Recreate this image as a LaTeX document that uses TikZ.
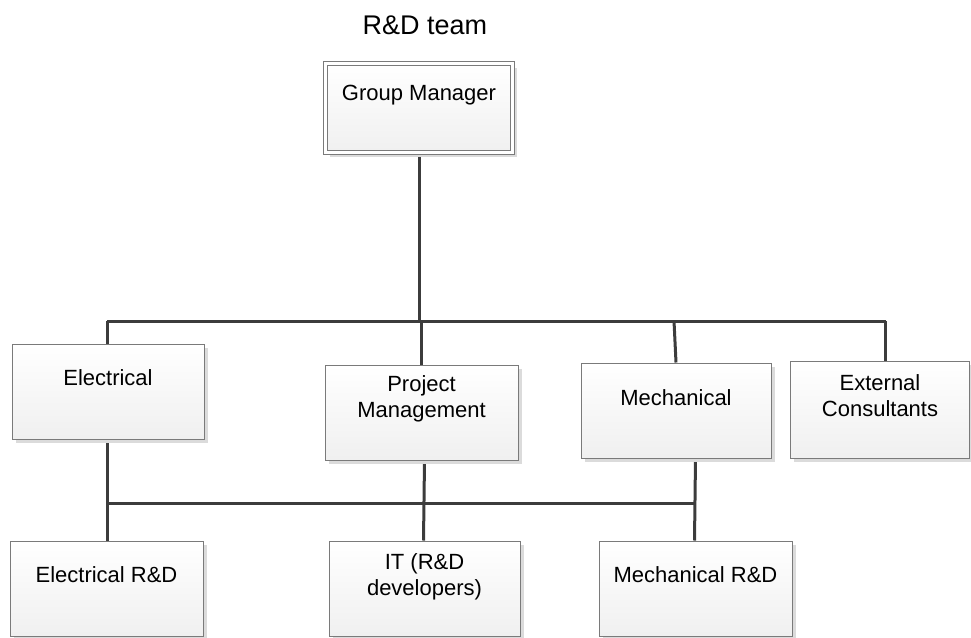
\documentclass[tikz,border=0pt]{standalone}
\usepackage{fontspec}
\setmainfont{Liberation Sans}
\usetikzlibrary{shadows,backgrounds}

\definecolor{wirecol}{HTML}{3C3C3C}
\definecolor{edgecol}{HTML}{7A7A7A}

\tikzset{
  box/.style={draw=edgecol, line width=1pt, top color=white, bottom color=black!6,
    inner sep=0pt, minimum height=95pt,
    drop shadow={shadow xshift=4pt, shadow yshift=-4pt, fill=black!14, opacity=1}},
  mainbox/.style={box, line width=0.9pt, double=white, double distance=2.6pt},
  label text/.style={font=\fontsize{22}{26.5}\selectfont, align=center, inner sep=0pt},
  wire/.style={draw=wirecol, line width=3pt},
}

\begin{document}
\begin{tikzpicture}[x=1pt, y=-1pt]
\useasboundingbox (0,0) rectangle (971,637);

% title
\node[font=\fontsize{27}{32}\selectfont, inner sep=0pt] (title) at (425,25) {R\&D team};

% boxes
\node[mainbox, minimum width=187pt, minimum height=89pt] (gm) at (419,108) {};
\node[box, minimum width=192pt] (el)   at (108,391.5) {};
\node[box, minimum width=193pt] (pm)   at (421.5,412.5) {};
\node[box, minimum width=190pt] (mech) at (676,410.5) {};
\node[box, minimum width=179pt, minimum height=97pt] (ext) at (879.5,409.5) {};
\node[box, minimum width=193pt] (erd)  at (106.5,588.5) {};
\node[box, minimum width=191pt] (it)   at (424.5,588.5) {};
\node[box, minimum width=193pt] (mrd)  at (695.5,588.5) {};

% box texts
\node[label text] (gm-t)   at (419,95)    {Group Manager};
\node[label text] (el-t)   at (108,378)   {Electrical};
\node[label text] (pm-t)   at (421.5,399) {Project\\Management};
\node[label text] (mech-t) at (676,398)   {Mechanical};
\node[label text] (ext-t)  at (880,395.5) {External\\Consultants};
\node[label text] (erd-t)  at (106.5,575) {Electrical R\&D};
\node[label text] (it-t)   at (424.5,577) {IT (R\&D\\developers)};
\node[label text] (mrd-t)  at (695.5,575) {Mechanical R\&D};

% bus levels
\coordinate (bt) at (0,321);
\coordinate (bb) at (0,503.5);

\begin{scope}[on background layer]
  % upper bus
  \draw[wire] (gm.south) -- (gm.south |- bt);
  \draw[wire] ([xshift=-1pt]el.north |- bt) -- ([xshift=6pt]ext.north |- bt);
  \draw[wire] ([xshift=-1pt]el.north |- bt) -- ([xshift=-1pt]el.north);
  \draw[wire] (pm.north |- bt) -- (pm.north);
  \draw[wire] ([xshift=-2pt]mech.north |- bt) -- (mech.north);
  \draw[wire] ([xshift=6pt]ext.north |- bt) -- ([xshift=6pt]ext.north);
  % lower bus
  \draw[wire] ([xshift=0.5pt]erd.north |- bb) -- ([xshift=-1pt]mrd.north |- bb);
  \draw[wire] ([xshift=-1pt]el.south) -- ([xshift=0.5pt]erd.north);
  \draw[wire] (pm.south -| it.north) -- ([xshift=-1pt]it.north);
  \draw[wire] (mech.south -| mrd.north) -- ([xshift=-1pt]mrd.north);
\end{scope}
\end{tikzpicture}
\end{document}
